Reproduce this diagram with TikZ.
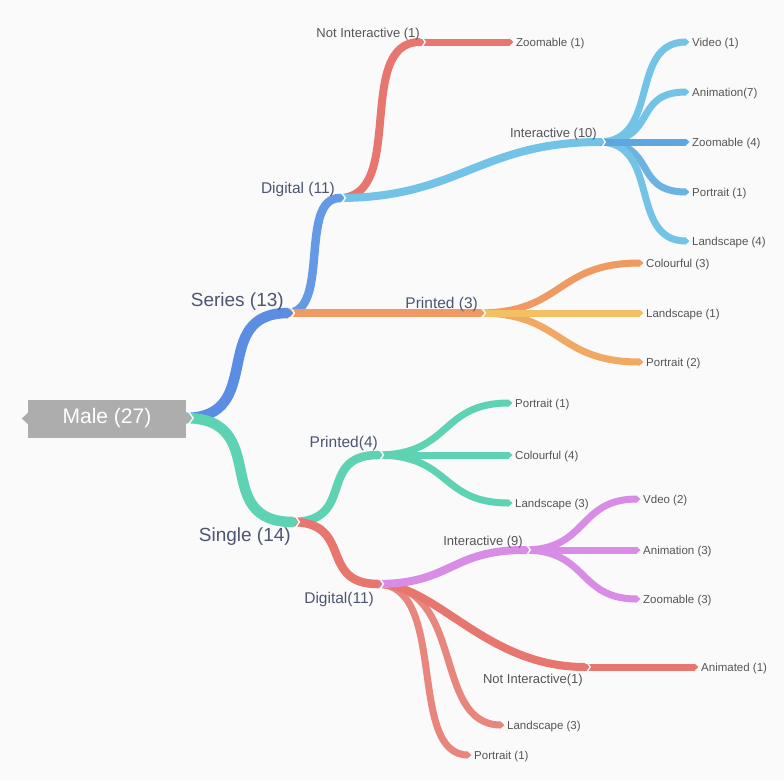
\documentclass[tikz,border=0pt]{standalone}
\usepackage{fontspec}
\setmainfont{Liberation Sans}
\usetikzlibrary{calc}
\definecolor{bg}{HTML}{FAFAFA}
\definecolor{malegray}{HTML}{ADADAD}
\definecolor{cblue}{HTML}{5B8EE3}
\definecolor{cblue2}{HTML}{6499E6}
\definecolor{cteal}{HTML}{5DD3B3}
\definecolor{corange}{HTML}{EE9A62}
\definecolor{cyellow}{HTML}{F3C064}
\definecolor{corange2}{HTML}{F0A862}
\definecolor{cred}{HTML}{E6766E}
\definecolor{csalmon}{HTML}{E8857C}
\definecolor{csky}{HTML}{72C3E6}
\definecolor{csky2}{HTML}{5EA6E0}
\definecolor{csky3}{HTML}{6CB3E3}
\definecolor{cviolet}{HTML}{D88CE6}
\definecolor{txtA}{HTML}{4D5670}
\definecolor{txtB}{HTML}{555555}
\tikzset{
  lab/.style={inner sep=0pt, text=txtB, yshift=-1.5pt},
  labA/.style={lab, font=\fontsize{19}{22}\selectfont, text=txtA},
  labB/.style={lab, font=\fontsize{15.5}{18}\selectfont, text=txtA},
  labC/.style={lab, font=\fontsize{13}{15}\selectfont},
  labD/.style={lab, font=\fontsize{11.5}{13}\selectfont, anchor=west},
  notchline/.style={draw=bg, line width=1.4pt, line join=miter},
  malebox/.style={fill=malegray, text=white, minimum width=158pt, minimum height=38pt, inner sep=0pt, font=\fontsize{21}{24}\selectfont},
}
\newcommand{\tipat}[3]{%
  \fill[#2] ($(#1)+(-0.5,-#3/2)$) -- ($(#1)+(#3/2,0)$) -- ($(#1)+(-0.5,#3/2)$) -- cycle;}
% smooth S: #1 from, #2 to, #3 colour, #4 width, #5 #6 control distances
\newcommand{\twig}[6]{%
  \draw[line width=#4pt, draw=#3] ([xshift=-1pt]#1) .. controls +(#5,0) and +(-#6,0) .. (#2);
  \tipat{#2}{#3}{#4}}
\newcommand{\notchat}[2]{%
  \draw[notchline] ($(#1)+(1.2,-#2-2)$) -- ($(#1)+(#2+1.2,0)$) -- ($(#1)+(1.2,#2+2)$);}
\begin{document}
\begin{tikzpicture}[x=1pt,y=-1pt]
\fill[bg] (0,0) rectangle (784,780);
\useasboundingbox (0,0) rectangle (784,780);
% junctions
\coordinate (M) at (186,418);
\coordinate (jS) at (288,313);
\coordinate (jSi) at (293,522);
\coordinate (jD1) at (340,198);
\coordinate (jP3) at (480,313);
\coordinate (jN1) at (420,42);
\coordinate (jI10) at (600,142);
\coordinate (jP4) at (378,455);
\coordinate (jD2) at (378,584);
\coordinate (jI9) at (525,550);
\coordinate (jN2) at (585,667);
% leaves
\coordinate (lZ1) at (510,42);
\coordinate (lV1) at (686,42);
\coordinate (lA7) at (686,92);
\coordinate (lZ4) at (686,142);
\coordinate (lP1) at (686,192);
\coordinate (lL4) at (686,241);
\coordinate (lC3) at (640,263);
\coordinate (lL1) at (640,313);
\coordinate (lP2) at (640,362);
\coordinate (lP1b) at (509,403);
\coordinate (lC4) at (509,455);
\coordinate (lL3) at (509,503);
\coordinate (lV2) at (637,499);
\coordinate (lA3) at (637,550);
\coordinate (lZ3) at (637,599);
\coordinate (lAn1) at (695,667);
\coordinate (lL3b) at (501,725);
\coordinate (lP1c) at (468,755);
% level 4
\twig{jN1}{lZ1}{cred}{7}{30}{30}
\twig{jI10}{lV1}{csky}{7}{62}{58}
\twig{jI10}{lA7}{csky}{7}{60}{55}
\twig{jI10}{lP1}{csky3}{7}{60}{55}
\twig{jI10}{lL4}{csky}{7}{62}{58}
\twig{jI10}{lZ4}{csky2}{7}{45}{45}
\twig{jI9}{lV2}{cviolet}{7}{65}{60}
\twig{jI9}{lZ3}{cviolet}{7}{65}{60}
\twig{jI9}{lA3}{cviolet}{7}{55}{55}
\twig{jN2}{lAn1}{cred}{7}{40}{40}
% level 3
\twig{jD1}{jN1}{cred}{8}{68}{66}
\twig{jD1}{jI10}{csky}{8}{120}{120}
\twig{jP3}{lC3}{corange}{7}{85}{85}
\twig{jP3}{lP2}{corange2}{7}{85}{85}
\twig{jP3}{lL1}{cyellow}{7}{80}{80}
\twig{jP4}{lP1b}{cteal}{7}{75}{70}
\twig{jP4}{lL3}{cteal}{7}{75}{70}
\twig{jP4}{lC4}{cteal}{7}{65}{65}
\twig{jD2}{lP1c}{csalmon}{7}{72}{62}
\twig{jD2}{lL3b}{csalmon}{7}{90}{70}
\twig{jD2}{jN2}{cred}{8}{60}{100}
\twig{jD2}{jI9}{cviolet}{8}{75}{75}
% level 2
\twig{jS}{jD1}{cblue2}{8.5}{44}{42}
\twig{jS}{jP3}{corange}{8.5}{50}{50}
\twig{jSi}{jP4}{cteal}{8.5}{65}{62}
\twig{jSi}{jD2}{cred}{8.5}{62}{60}
% level 1
\twig{M}{jS}{cblue}{10.5}{82}{80}
\twig{M}{jSi}{cteal}{10.5}{88}{84}
% root
\node[malebox] (male) at (107,418.5) {Male (27)};
\fill[malegray] ($(male.west)+(0.5,-6)$) -- ($(male.west)+(-6,0)$) -- ($(male.west)+(0.5,6)$) -- cycle;
\fill[malegray] ($(M)+(-0.5,-6)$) -- ($(M)+(6,0)$) -- ($(M)+(-0.5,6)$) -- cycle;
% notches
\notchat{M}{6}
\notchat{jS}{5.25}
\notchat{jSi}{5.25}
\notchat{jD1}{4.25}
\notchat{jP3}{4.25}
\notchat{jN1}{4}
\notchat{jI10}{4}
\notchat{jP4}{4.25}
\notchat{jD2}{4.25}
\notchat{jI9}{4}
\notchat{jN2}{4}
% labels
\node[labA, anchor=east] (tSeries) at (284,300) {Series (13)};
\node[labA, anchor=east] (tSingle) at (291,535) {Single (14)};
\node[labB, anchor=east] (tDig1) at (335,188) {Digital (11)};
\node[labB, anchor=east] (tPr3) at (478,303) {Printed (3)};
\node[labC, anchor=east] (tNI1) at (420,33) {Not Interactive (1)};
\node[labC, anchor=east] (tI10) at (597,133) {Interactive (10)};
\node[labB, anchor=east] (tPr4) at (378,442) {Printed(4)};
\node[labB, anchor=east] (tDig2) at (374,598) {Digital(11)};
\node[labC, anchor=east] (tI9) at (523,541) {Interactive (9)};
\node[labC, anchor=east] (tNI2) at (583,679) {Not Interactive(1)};
\node[labD] (tZ1) at (516,42) {Zoomable (1)};
\node[labD] (tV1) at (692,42) {Video (1)};
\node[labD] (tA7) at (692,92) {Animation(7)};
\node[labD] (tZ4) at (692,142) {Zoomable (4)};
\node[labD] (tP1) at (692,192) {Portrait (1)};
\node[labD] (tL4) at (692,241) {Landscape (4)};
\node[labD] (tC3) at (646,263) {Colourful (3)};
\node[labD] (tL1) at (646,313) {Landscape (1)};
\node[labD] (tP2) at (646,362) {Portrait (2)};
\node[labD] (tP1b) at (515,403) {Portrait (1)};
\node[labD] (tC4) at (515,455) {Colourful (4)};
\node[labD] (tL3) at (515,503) {Landscape (3)};
\node[labD] (tV2) at (643,499) {Vdeo (2)};
\node[labD] (tA3) at (643,550) {Animation (3)};
\node[labD] (tZ3) at (643,599) {Zoomable (3)};
\node[labD] (tAn1) at (701,667) {Animated (1)};
\node[labD] (tL3b) at (507,725) {Landscape (3)};
\node[labD] (tP1c) at (474,755) {Portrait (1)};
\end{tikzpicture}
\end{document}
